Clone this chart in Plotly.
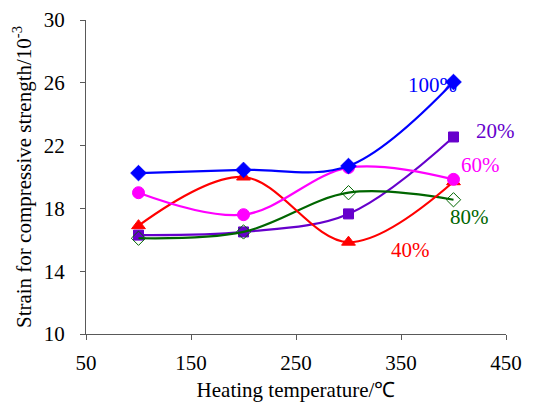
import plotly.graph_objects as go

temps = [100, 200, 300, 400]
s100 = [20.25, 20.45, 20.7, 26.05]
s20 = [16.3, 16.5, 17.65, 22.55]
s60 = [19.0, 17.6, 20.6, 19.85]
s40 = [16.9, 20.0, 15.85, 19.7]
s80 = [16.1, 16.5, 19.0, 18.55]

labels = ["100%", "20%", "60%", "80%", "40%"]
label_x = [380, 440, 426, 415, 359]
label_y = [25.85, 22.9, 20.75, 17.45, 15.35]

# drawing order: bottom to top
series = [
    ("20%", s20, "#6600CC", "square", 10),
    ("80%", s80, "#006600", "diamond-open", 11),
    ("40%", s40, "#FF0000", "triangle-up", 12),
    ("60%", s60, "#FF00FF", "circle", 12),
    ("100%", s100, "#0000FF", "diamond", 12),
]
label_colors = {"100%": "#0000FF", "20%": "#6600CC", "60%": "#FF00FF", "80%": "#006600", "40%": "#FF0000"}

SERIF = "Liberation Serif"
AXC = "#595959"

fig = go.Figure()
for name, vals, col, sym, sz in series:
    fig.add_trace(go.Scatter(
        x=temps, y=vals, mode="lines+markers", name=name,
        line=dict(color=col, width=2.2, shape="spline", smoothing=1.0),
        marker=dict(symbol=sym, size=sz, color=col, line=dict(color=col, width=1)),
    ))

for t, x, y in zip(labels, label_x, label_y):
    fig.add_annotation(x=x, y=y, text=t, showarrow=False,
                       font=dict(family=SERIF, size=21, color=label_colors[t]))

tf = dict(family=SERIF, size=21, color="black")
fig.update_layout(
    width=542, height=402,
    margin=dict(l=86, r=36, t=20, b=68, autoexpand=False),
    paper_bgcolor="white", plot_bgcolor="white",
    showlegend=False,
    font=tf,
    xaxis=dict(range=[50, 450], tickvals=[50, 150, 250, 350, 450], showgrid=False, zeroline=False,
               showline=True, linecolor=AXC, linewidth=1, ticks="outside", ticklen=5,
               tickcolor=AXC, tickfont=tf, automargin=False, ticklabelstandoff=5,
               title=dict(text="Heating temperature/℃", font=dict(family=SERIF, size=21, color="black"), standoff=26)),
    yaxis=dict(range=[10, 30], tickvals=[10, 14, 18, 22, 26, 30], showgrid=False, zeroline=False,
               showline=True, linecolor=AXC, linewidth=1, ticks="outside", ticklen=5,
               tickcolor=AXC, tickfont=tf, automargin=False, ticklabelstandoff=11,
               title=dict(text="Strain for compressive strength/10<sup>-3</sup>",
                          font=dict(family=SERIF, size=21, color="black"), standoff=6)),
)
fig.write_html("out.html")
